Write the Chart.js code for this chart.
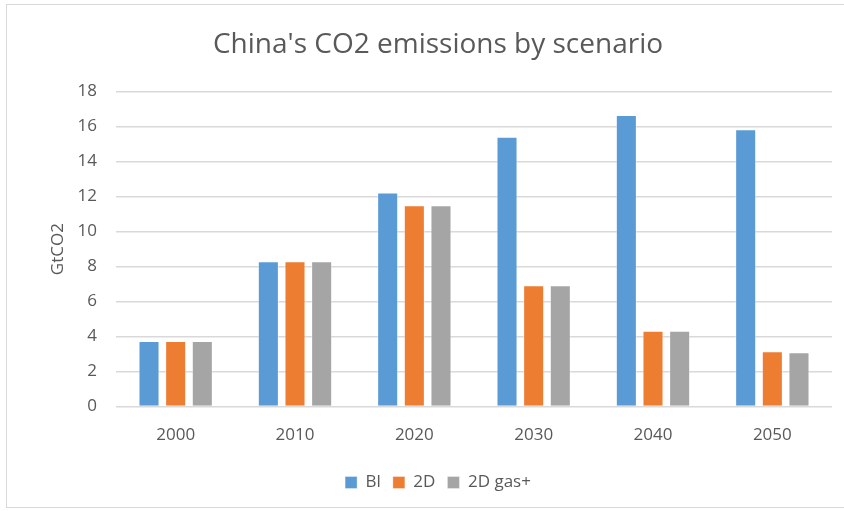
<!DOCTYPE html>
<html>
<head>
<meta charset="utf-8">
<script src="https://cdn.jsdelivr.net/npm/chart.js@4"></script>
<style>
  html, body { margin: 0; padding: 0; background: #fff; }
  #wrap { width: 844px; height: 511px; position: relative; }
</style>
</head>
<body>
<div id="wrap"><canvas id="chart"></canvas></div>
<script>
const years = ['2000', '2010', '2020', '2030', '2040', '2050'];
const bl = [3.75, 8.31, 12.23, 15.42, 16.67, 15.85];
const d2 = [3.75, 8.31, 11.5, 6.94, 4.33, 3.17];
const d2gas = [3.75, 8.31, 11.5, 6.94, 4.33, 3.1];
const yTicks = [0, 2, 4, 6, 8, 10, 12, 14, 16, 18];

const textColor = '#595959';
const fontFamily = "'Open Sans', 'Liberation Sans', sans-serif";

const frame = {
    id: 'frame',
    beforeDraw(chart) {
        const c = chart.ctx;
        c.save();
        c.fillStyle = '#fff';
        c.fillRect(0, 0, chart.width, chart.height);
        c.strokeStyle = '#d9d9d9';
        c.lineWidth = 1;
        c.strokeRect(6.5, 4.5, chart.width, chart.height - 8);
        c.restore();
    }
};

function bar(label, data, color) {
    return {
        label: label,
        data: data,
        backgroundColor: color,
        borderColor: 'rgba(255,255,255,0.35)',
        borderWidth: 1,
        categoryPercentage: 0.67,
        barPercentage: 0.79
    };
}

new Chart(document.getElementById('chart'), {
    type: 'bar',
    data: {
        labels: years,
        datasets: [
            bar('Bl', bl, '#5b9bd5'),
            bar('2D', d2, '#ed7d31'),
            bar('2D gas+', d2gas, '#a5a5a5')
        ]
    },
    options: {
        responsive: true,
        maintainAspectRatio: false,
        animation: false,
        layout: { padding: { left: 44, right: 12, top: 0, bottom: 10 } },
        plugins: {
            title: {
                display: true,
                text: "China's CO2 emissions by scenario",
                color: textColor,
                font: { family: fontFamily, size: 28, weight: 'normal' },
                padding: { top: 28, bottom: 30 }
            },
            legend: {
                position: 'bottom',
                labels: {
                    color: textColor,
                    font: { family: fontFamily, size: 17 },
                    boxWidth: 12,
                    boxHeight: 12,
                    padding: 12
                }
            },
            tooltip: { enabled: false }
        },
        scales: {
            x: {
                grid: { display: false },
                border: { display: false },
                afterFit(scale) {
                    scale.height += 7;
                },
                ticks: { color: textColor, font: { family: fontFamily, size: 17 }, padding: 10 }
            },
            y: {
                min: 0,
                max: 18,
                afterBuildTicks(scale) {
                    scale.ticks = yTicks.map(v => ({ value: v }));
                },
                afterFit(scale) {
                    scale.width = 72;
                },
                grid: { color: '#d9d9d9', lineWidth: 1.5, drawTicks: false },
                border: { display: false },
                ticks: { color: textColor, font: { family: fontFamily, size: 17 }, padding: 19 },
                title: {
                    display: true,
                    text: 'GtCO2',
                    color: textColor,
                    font: { family: fontFamily, size: 17 },
                    padding: { top: 4, bottom: 8 }
                }
            }
        }
    },
    plugins: [frame]
});
</script>
</body>
</html>
